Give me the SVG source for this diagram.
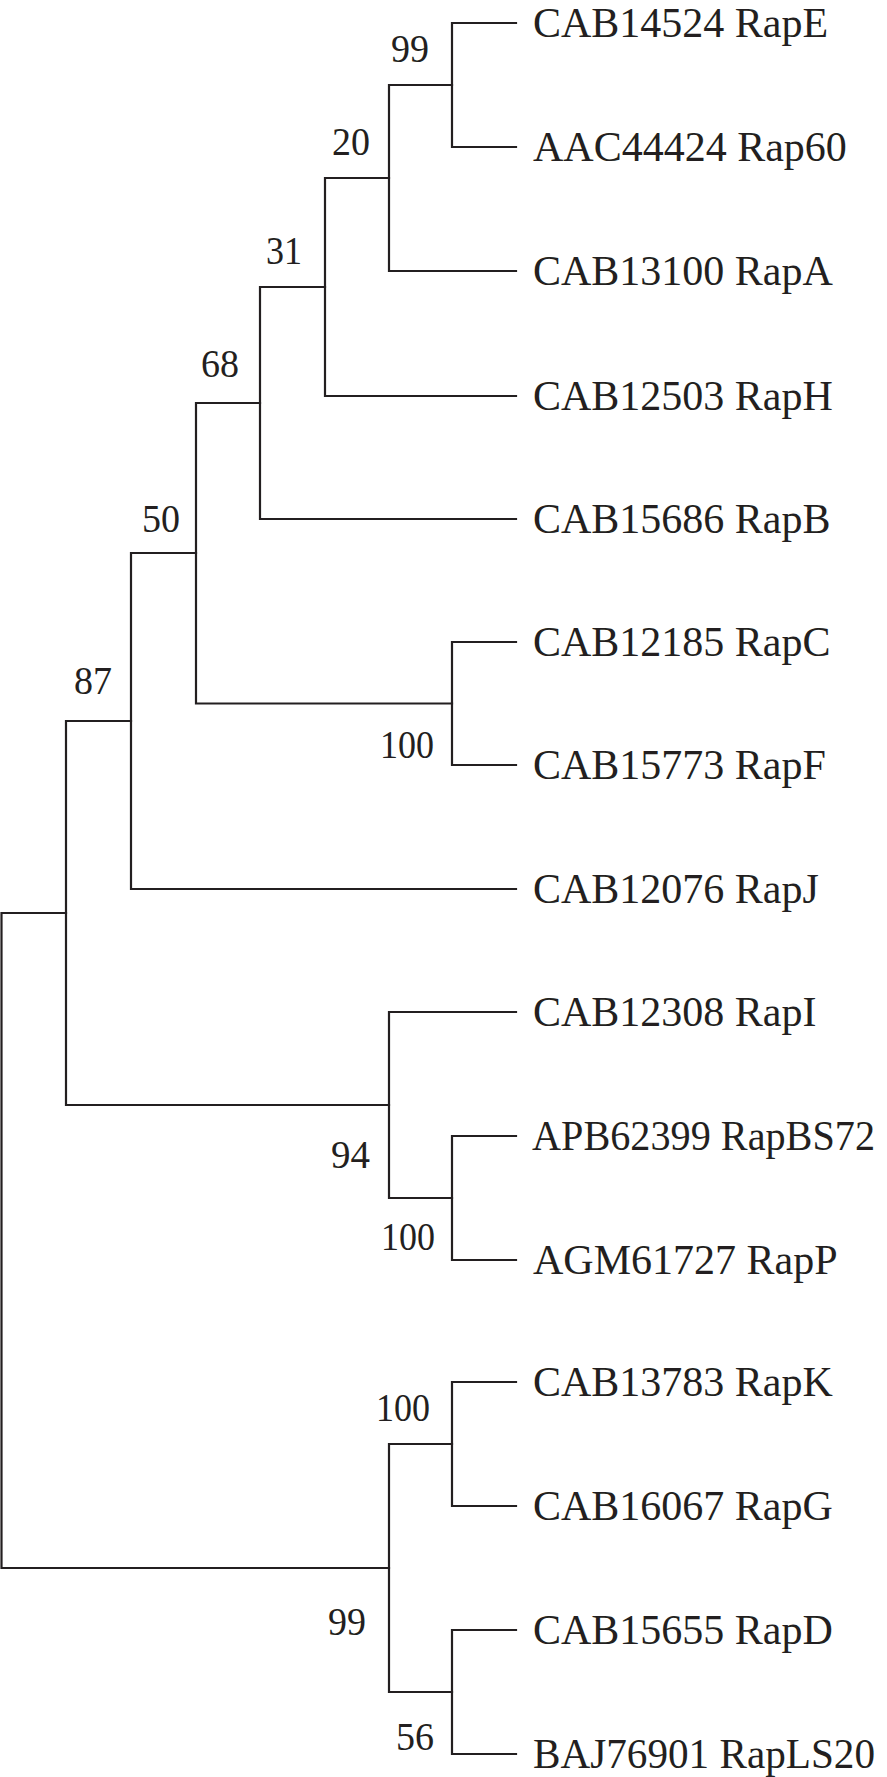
<svg xmlns="http://www.w3.org/2000/svg" width="887" height="1777" viewBox="0 0 887 1777">
<style>
.br{fill:none;stroke:#231f20;stroke-width:2.2;stroke-linejoin:miter;stroke-linecap:square}
.leaf{font-family:"Liberation Serif","Times New Roman",serif;font-size:42px;fill:#231f20}
.bs{font-family:"Liberation Serif","Times New Roman",serif;font-size:41px;fill:#231f20;text-anchor:end}
</style>
<rect width="887" height="1777" fill="#ffffff"/>
<g id="connectors">
<path class="br" d="M516 23 H452 V147 H516"/>
<path class="br" d="M452 85 H389 V271 H516"/>
<path class="br" d="M389 178 H325 V396 H516"/>
<path class="br" d="M325 287 H260 V519 H516"/>
<path class="br" d="M516 642 H452 V765 H516"/>
<path class="br" d="M260 403 H196 V703.5 H452"/>
<path class="br" d="M196 553 H131 V889 H516"/>
<path class="br" d="M516 1136 H452 V1260 H516"/>
<path class="br" d="M516 1012 H389 V1198 H452"/>
<path class="br" d="M131 721 H66 V1105 H389"/>
<path class="br" d="M516 1382 H452 V1506 H516"/>
<path class="br" d="M516 1630 H452 V1754 H516"/>
<path class="br" d="M452 1444 H389 V1692 H452"/>
<path class="br" d="M66 913 H1.5 V1568 H389"/>
</g>
<g id="leaf-RapE"><text class="leaf" x="533" y="37">CAB14524 RapE</text></g>
<g id="leaf-Rap60"><text class="leaf" x="533" y="161">AAC44424 Rap60</text></g>
<g id="leaf-RapA"><text class="leaf" x="533" y="285">CAB13100 RapA</text></g>
<g id="leaf-RapH"><text class="leaf" x="533" y="410">CAB12503 RapH</text></g>
<g id="leaf-RapB"><text class="leaf" x="533" y="533">CAB15686 RapB</text></g>
<g id="leaf-RapC"><text class="leaf" x="533" y="656">CAB12185 RapC</text></g>
<g id="leaf-RapF"><text class="leaf" x="533" y="779">CAB15773 RapF</text></g>
<g id="leaf-RapJ"><text class="leaf" x="533" y="903">CAB12076 RapJ</text></g>
<g id="leaf-RapI"><text class="leaf" x="533" y="1026">CAB12308 RapI</text></g>
<g id="leaf-RapBS72"><text class="leaf" x="532" y="1150" textLength="343" lengthAdjust="spacingAndGlyphs">APB62399 RapBS72</text></g>
<g id="leaf-RapP"><text class="leaf" x="533" y="1274">AGM61727 RapP</text></g>
<g id="leaf-RapK"><text class="leaf" x="533" y="1396">CAB13783 RapK</text></g>
<g id="leaf-RapG"><text class="leaf" x="533" y="1520">CAB16067 RapG</text></g>
<g id="leaf-RapD"><text class="leaf" x="533" y="1644">CAB15655 RapD</text></g>
<g id="leaf-RapLS20"><text class="leaf" x="533" y="1768" textLength="342" lengthAdjust="spacingAndGlyphs">BAJ76901 RapLS20</text></g>
<g id="bs-99a"><text class="bs" x="429" y="62" textLength="38" lengthAdjust="spacingAndGlyphs">99</text></g>
<g id="bs-20"><text class="bs" x="370" y="155" textLength="38" lengthAdjust="spacingAndGlyphs">20</text></g>
<g id="bs-31"><text class="bs" x="302" y="264" textLength="36" lengthAdjust="spacingAndGlyphs">31</text></g>
<g id="bs-68"><text class="bs" x="239" y="377" textLength="38" lengthAdjust="spacingAndGlyphs">68</text></g>
<g id="bs-50"><text class="bs" x="180" y="532" textLength="38" lengthAdjust="spacingAndGlyphs">50</text></g>
<g id="bs-87"><text class="bs" x="112" y="694" textLength="38" lengthAdjust="spacingAndGlyphs">87</text></g>
<g id="bs-100a"><text class="bs" x="434" y="758" textLength="54" lengthAdjust="spacingAndGlyphs">100</text></g>
<g id="bs-94"><text class="bs" x="370" y="1168" textLength="39" lengthAdjust="spacingAndGlyphs">94</text></g>
<g id="bs-100b"><text class="bs" x="435" y="1250" textLength="54" lengthAdjust="spacingAndGlyphs">100</text></g>
<g id="bs-100c"><text class="bs" x="430" y="1421" textLength="54" lengthAdjust="spacingAndGlyphs">100</text></g>
<g id="bs-99b"><text class="bs" x="366" y="1635" textLength="38" lengthAdjust="spacingAndGlyphs">99</text></g>
<g id="bs-56"><text class="bs" x="434" y="1750" textLength="38" lengthAdjust="spacingAndGlyphs">56</text></g>
</svg>
